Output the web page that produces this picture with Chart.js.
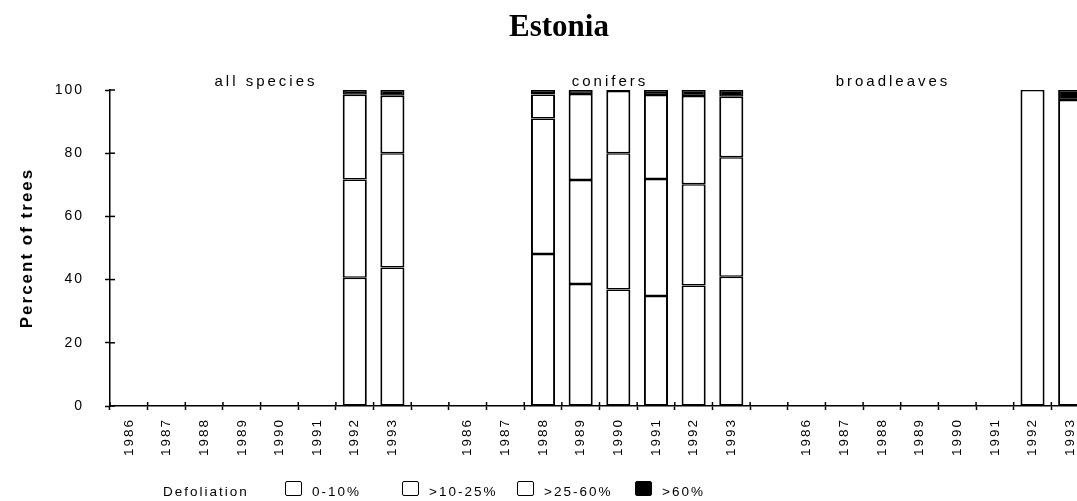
<!DOCTYPE html>
<html lang="en">
<head>
  <meta charset="UTF-8">
  <title>Estonia defoliation</title>
  <script src="https://cdn.jsdelivr.net/npm/chart.js"></script>
</head>
<body>
<style>
    body {
        margin: 0;
        background-color: #ffffff;
        overflow: hidden;
    }

    .wrapper-chart {
        position: relative;
        width: 1095px;
        height: 501px;
    }

    .legend {
        position: absolute;
        top: 480px;
        left: 0;
        font-family: "Liberation Sans", Arial, sans-serif;
        font-size: 13.5px;
        letter-spacing: 2px;
        color: #000;
    }

    .legend span {
        position: absolute;
        white-space: nowrap;
        line-height: 18px;
    }

    .legend .box {
        width: 15px;
        height: 13px;
        border: 1.5px solid #000;
        border-radius: 2px;
        top: 1px;
    }
</style>

<div class="wrapper-chart">
  <canvas id="myChart" width="1095" height="501"></canvas>
  <div class="legend" id="legend"></div>
</div>

<script>
    // x categories: three groups of years with one empty slot between groups
    const years = ['1986', '1987', '1988', '1989', '1990', '1991', '1992', '1993'];
    const categories = [...years, '', ...years, '', ...years];

    const groupNames = ['all species', 'conifers', 'broadleaves'];

    const classNames = ['0-10%', '>10-25%', '>25-60%', '>60%'];

    // percent of trees per defoliation class (null = no survey)
    const defol0to10 = [null, null, null, null, null, null, 40.6, 43.8,
        null,
        null, null, 48.1, 38.6, 36.9, 34.8, 38.1, 40.9,
        null,
        null, null, null, null, null, null, 100, 96.8];
    const defol10to25 = [null, null, null, null, null, null, 31.1, 36.2,
        null,
        null, null, 42.9, 32.9, 43.1, 37.0, 32.1, 37.8,
        null,
        null, null, null, null, null, null, null, null];
    const defol25to60 = [null, null, null, null, null, null, 26.8, 18.2,
        null,
        null, null, 7.6, 27.2, 19.7, 26.6, 27.9, 19.2,
        null,
        null, null, null, null, null, null, null, null];
    const defolOver60 = [null, null, null, null, null, null, 1.5, 1.8,
        null,
        null, null, 1.4, 1.3, 0.3, 1.6, 1.9, 2.1,
        null,
        null, null, null, null, null, null, null, 3.2];

    const yTicks = [0, 20, 40, 60, 80, 100];

    const fills = ['#ffffff', '#ffffff', '#ffffff', '#000000'];

    const seriesList = [defol0to10, defol10to25, defol25to60, defolOver60];

    const datasets = seriesList.map((values, i) => ({
        label: classNames[i],
        data: values,
        backgroundColor: fills[i],
        borderColor: '#000000',
        borderWidth: {left: 2, right: 2, top: 1.5, bottom: 1.5},
        borderSkipped: false,
        categoryPercentage: 1.0,
        barPercentage: 0.64
    }));

    // text drawn on top: title and group names, plus ticks crossing the axes
    const extraText = {
        id: 'extraText',
        beforeDraw(chart) {
            chart.ctx.letterSpacing = '2px';
        },
        afterDraw(chart) {
            const ctx = chart.ctx;
            const xs = chart.scales.x;
            const ys = chart.scales.y;
            const area = chart.chartArea;
            ctx.save();
            ctx.strokeStyle = '#000';
            ctx.lineWidth = 1.5;
            // inner halves of the tick marks
            yTicks.forEach(v => {
                const py = ys.getPixelForValue(v);
                ctx.beginPath();
                ctx.moveTo(area.left, py);
                ctx.lineTo(area.left + 5, py);
                ctx.stroke();
            });
            const half = (xs.getPixelForValue(1) - xs.getPixelForValue(0)) / 2;
            for (let i = 0; i <= categories.length; i++) {
                const px = xs.getPixelForValue(i) - half;
                ctx.beginPath();
                ctx.moveTo(px, area.bottom);
                ctx.lineTo(px, area.bottom - 4);
                ctx.stroke();
            }

            ctx.fillStyle = '#000';
            ctx.textAlign = 'center';
            ctx.textBaseline = 'middle';
            ctx.letterSpacing = '3px';
            ctx.font = '15px "Liberation Sans", Arial, sans-serif';
            const groupX = [266, 610, 893];
            groupNames.forEach((name, i) => {
                ctx.fillText(name, groupX[i], 82);
            });

            ctx.letterSpacing = '0px';
            ctx.font = 'bold 31px "Liberation Serif", "Times New Roman", serif';
            ctx.fillText('Estonia', 559, 28);
            ctx.restore();
        }
    };

    const config = {
        type: 'bar',
        data: {
            labels: categories,
            datasets: datasets
        },
        options: {
            responsive: false,
            animation: false,
            devicePixelRatio: 1,
            layout: {
                padding: {top: 90, right: 6, left: 0, bottom: 0}
            },
            plugins: {
                legend: {display: false},
                title: {display: false},
                tooltip: {enabled: false}
            },
            scales: {
                x: {
                    stacked: true,
                    afterFit: function (scale) {
                        scale.height = 95;
                    },
                    grid: {
                        display: true,
                        drawOnChartArea: false,
                        tickLength: 4,
                        tickColor: '#000',
                        tickWidth: 1.5
                    },
                    border: {color: '#000', width: 1.5},
                    ticks: {
                        autoSkip: false,
                        maxRotation: 90,
                        minRotation: 90,
                        padding: 8,
                        color: '#000',
                        font: {family: '"Liberation Sans", Arial, sans-serif', size: 13.5}
                    }
                },
                y: {
                    stacked: true,
                    min: 0,
                    max: 100,
                    afterFit: function (scale) {
                        scale.width = 110;
                    },
                    afterBuildTicks: function (scale) {
                        scale.ticks = yTicks.map(v => ({value: v}));
                    },
                    grid: {
                        display: true,
                        drawOnChartArea: false,
                        tickLength: 5,
                        tickColor: '#000',
                        tickWidth: 1.5
                    },
                    border: {color: '#000', width: 1.5},
                    ticks: {
                        padding: 21,
                        color: '#000',
                        font: {family: '"Liberation Sans", Arial, sans-serif', size: 14}
                    },
                    title: {
                        display: true,
                        text: 'Percent of trees',
                        color: '#000',
                        padding: {top: 17, bottom: 0},
                        font: {family: '"Liberation Sans", Arial, sans-serif', size: 17, weight: 'bold'}
                    }
                }
            }
        },
        plugins: [extraText]
    };

    const myChart = new Chart(document.getElementById('myChart'), config);

    // legend below the chart
    const legendEl = document.getElementById('legend');
    const legendX = [285, 402, 517, 635];
    let html = '<span style="left:163px;top:3px">Defoliation</span>';
    classNames.forEach((name, i) => {
        html += '<span class="box" style="left:' + legendX[i] + 'px;background:' + fills[i] + '"></span>';
        html += '<span style="left:' + (legendX[i] + 27) + 'px;top:3px">' + name + '</span>';
    });
    legendEl.innerHTML = html;
</script>
</body>
</html>
